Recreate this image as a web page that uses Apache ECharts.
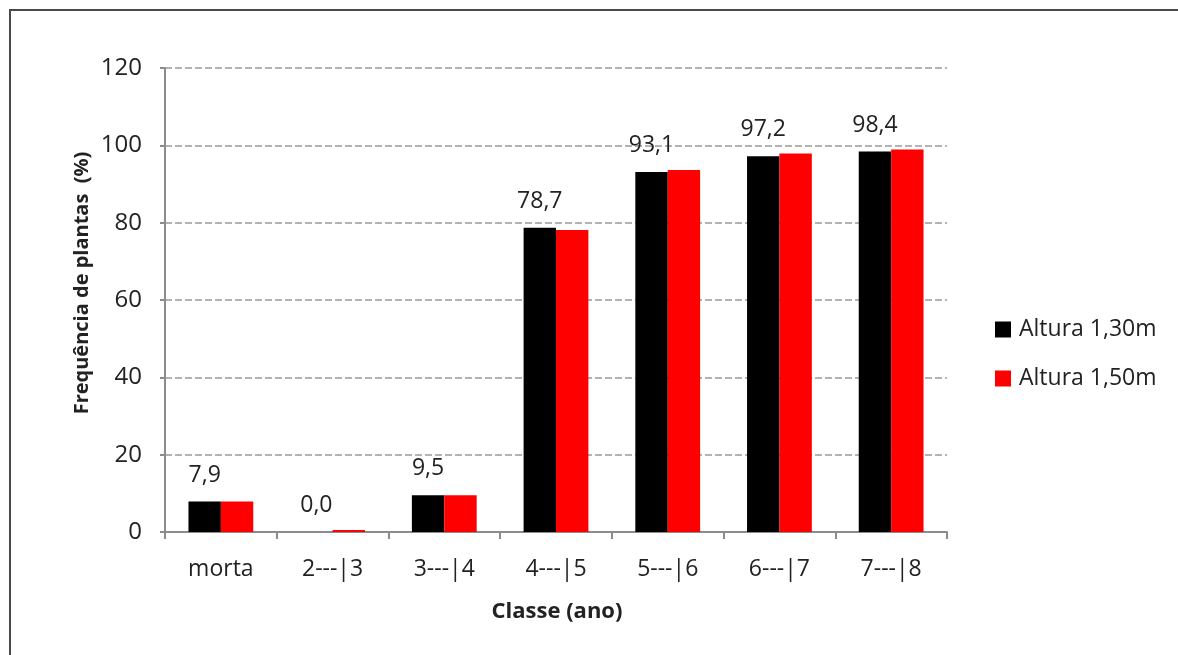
<!DOCTYPE html>
<html>
<head>
<meta charset="utf-8">
<style>
  html, body { margin: 0; padding: 0; background: #ffffff; }
  #chart { width: 1178px; height: 655px; }
</style>
<script src="https://cdn.jsdelivr.net/npm/echarts@6/dist/echarts.min.js"></script>
</head>
<body>
<div id="chart"></div>
<script>
// Classes de idade e frequência de plantas por altura de medição
const categories = ['morta', '2---|3', '3---|4', '4---|5', '5---|6', '6---|7', '7---|8'];
const altura130 = [7.9, 0.0, 9.5, 78.7, 93.1, 97.2, 98.4];
const altura150 = [7.9, 0.5, 9.5, 78.1, 93.6, 97.9, 98.9];
const seriesNames = ['Altura 1,30m', 'Altura 1,50m'];
const yTicks = { min: 0, max: 120, interval: 20 };

const FONT = '"Open Sans", "DejaVu Sans", sans-serif';
const TEXT = '#222222';
const AXIS = '#8c8c8c';

const chart = echarts.init(document.getElementById('chart'), null, { renderer: 'canvas' });

const decimalComma = v => Number(v).toFixed(1).replace('.', ',');

chart.setOption({
  animation: false,
  backgroundColor: '#ffffff',
  grid: { left: 165, right: 231, top: 68, bottom: 123, containLabel: false },
  legend: {
    orient: 'vertical',
    left: 990,
    top: 313,
    icon: 'rect',
    itemWidth: 16,
    itemHeight: 16,
    itemGap: 26,
    textStyle: { fontFamily: FONT, fontSize: 23, color: TEXT, padding: [0, 0, 0, 3] },
    data: seriesNames
  },
  xAxis: {
    type: 'category',
    data: categories,
    axisLine: { lineStyle: { color: AXIS, width: 2 } },
    axisTick: { show: true, length: 7, lineStyle: { color: AXIS, width: 2 }, alignWithLabel: false },
    axisLabel: { fontFamily: FONT, fontSize: 23, color: TEXT, margin: 26 },
    splitLine: { show: false }
  },
  yAxis: {
    type: 'value',
    min: yTicks.min,
    max: yTicks.max,
    interval: yTicks.interval,
    axisLine: { show: true, lineStyle: { color: AXIS, width: 2 } },
    axisTick: { show: true, length: 5, lineStyle: { color: AXIS, width: 2 } },
    axisLabel: { fontFamily: FONT, fontSize: 24, color: TEXT, margin: 23 },
    splitLine: { show: true, lineStyle: { color: '#9a9a9a', width: 1.5, type: [7, 3] } }
  },
  graphic: [
    {
      type: 'rect',
      silent: true,
      shape: { x: 10, y: 10, width: 1300, height: 800 },
      style: { fill: 'none', stroke: '#4a4a4a', lineWidth: 2 }
    },
    {
      type: 'text',
      silent: true,
      x: 82,
      y: 283,
      rotation: Math.PI / 2,
      style: {
        text: 'Frequência de plantas  (%)',
        fontFamily: FONT,
        fontSize: 20,
        fontWeight: 'bold',
        fill: TEXT,
        align: 'center',
        verticalAlign: 'middle'
      }
    },
    {
      type: 'text',
      silent: true,
      x: 557,
      y: 612,
      style: {
        text: 'Classe (ano)',
        fontFamily: FONT,
        fontSize: 22,
        fontWeight: 'bold',
        fill: TEXT,
        align: 'center',
        verticalAlign: 'middle'
      }
    }
  ],
  series: [
    {
      name: seriesNames[0],
      type: 'bar',
      data: altura130,
      barGap: '0%',
      barCategoryGap: '42%',
      itemStyle: { color: '#000000' },
      label: {
        show: true,
        position: 'top',
        distance: 15,
        fontFamily: FONT,
        fontSize: 23,
        color: TEXT,
        formatter: p => decimalComma(p.value)
      }
    },
    {
      name: seriesNames[1],
      type: 'bar',
      data: altura150,
      barGap: '0%',
      barCategoryGap: '42%',
      itemStyle: { color: '#ff0000' }
    }
  ]
});
</script>
</body>
</html>
